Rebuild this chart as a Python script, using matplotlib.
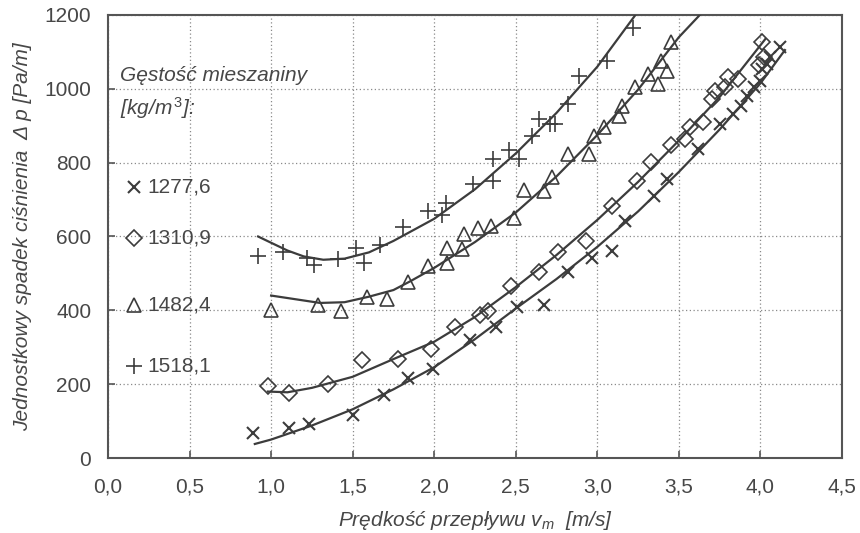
import numpy as np
import matplotlib
matplotlib.use("Agg")
import matplotlib.pyplot as plt
from matplotlib.patches import Rectangle

plt.rcParams["font.family"] = ["Liberation Sans", "DejaVu Sans"]
plt.rcParams["mathtext.fontset"] = "custom"
plt.rcParams["mathtext.rm"] = "Liberation Sans"
plt.rcParams["mathtext.it"] = "Liberation Sans:italic"

GRAY = "#3c3c3c"
TEXT = "#474747"
FS = 15

# measured points, density 1277,6 kg/m3 (x)
v_1277 = [0.89, 1.11, 1.23, 1.50, 1.69, 1.84, 1.99, 2.22, 2.38, 2.51, 2.67, 2.82, 2.97,
          3.09, 3.17, 3.35, 3.43, 3.62, 3.75, 3.83, 3.88, 3.92, 3.96, 4.00, 4.01, 4.04,
          4.06, 4.12]
dp_1277 = [68, 81, 92, 117, 171, 217, 242, 320, 356, 410, 415, 505, 543,
           560, 641, 709, 755, 836, 904, 931, 953, 980, 1004, 1021, 1054, 1067,
           1086, 1113]

# density 1310,9 (diamond)
v_1310 = [0.98, 1.11, 1.35, 1.56, 1.78, 1.98, 2.13, 2.28, 2.33, 2.47, 2.64, 2.76, 2.93,
          3.09, 3.24, 3.33, 3.45, 3.54, 3.57, 3.65, 3.70, 3.72, 3.78, 3.80, 3.86, 3.99,
          4.02, 4.01]
dp_1310 = [196, 176, 201, 266, 269, 296, 356, 388, 397, 467, 505, 557, 587,
           682, 750, 802, 849, 863, 896, 909, 972, 994, 1004, 1032, 1027, 1065,
           1085, 1127]

# density 1482,4 (triangle)
v_1482 = [1.00, 1.29, 1.43, 1.59, 1.71, 1.84, 1.96, 2.08, 2.08, 2.17, 2.18, 2.27, 2.35,
          2.49, 2.55, 2.67, 2.72, 2.82, 2.95, 2.98, 3.04, 3.13, 3.15, 3.23, 3.31, 3.37,
          3.39, 3.43, 3.45]
dp_1482 = [402, 415, 397, 437, 432, 478, 519, 529, 570, 565, 606, 622, 628,
           651, 725, 723, 760, 823, 823, 872, 896, 926, 953, 1004, 1040, 1013,
           1076, 1049, 1127]

# density 1518,1 (plus)
v_1518 = [0.92, 1.07, 1.22, 1.26, 1.41, 1.52, 1.57, 1.67, 1.81, 1.96, 2.05, 2.07, 2.24,
          2.36, 2.36, 2.46, 2.52, 2.60, 2.64, 2.71, 2.74, 2.82, 2.89, 3.06, 3.22]
dp_1518 = [546, 559, 543, 524, 540, 570, 529, 578, 625, 668, 657, 692, 741,
           750, 809, 834, 809, 872, 918, 904, 904, 958, 1035, 1076, 1165]

# trend curves
cv_1277 = [0.90, 1.00, 1.25, 1.50, 1.75, 2.00, 2.25, 2.50, 2.75, 3.00, 3.25, 3.50, 3.75, 4.00, 4.15]
cdp_1277 = [38, 50, 88, 132, 186, 246, 322, 405, 485, 572, 668, 775, 890, 1015, 1105]
cv_1310 = [0.98, 1.10, 1.25, 1.50, 1.75, 2.00, 2.25, 2.50, 2.75, 3.00, 3.25, 3.50, 3.75, 4.03]
cdp_1310 = [180, 178, 190, 220, 268, 315, 382, 463, 550, 645, 748, 860, 978, 1135]
cv_1482 = [1.00, 1.15, 1.30, 1.45, 1.60, 1.75, 1.85, 2.00, 2.25, 2.50, 2.75, 3.00, 3.25, 3.50, 3.66]
cdp_1482 = [440, 430, 420, 422, 437, 455, 478, 515, 585, 665, 763, 875, 998, 1140, 1215]
cv_1518 = [0.92, 1.00, 1.10, 1.20, 1.32, 1.45, 1.60, 1.75, 2.00, 2.25, 2.50, 2.75, 3.00, 3.25]
cdp_1518 = [600, 583, 562, 546, 537, 540, 557, 588, 648, 728, 825, 935, 1060, 1210]

labels = ["1277,6", "1310,9", "1482,4", "1518,1"]
x_ticks = np.arange(0, 4.51, 0.5)
y_ticks = np.arange(0, 1201, 200)


def main():
    fig = plt.figure(figsize=(8.6, 5.33), dpi=100)
    ax = fig.add_axes([0.1256, 0.1407, 0.8535, 0.8312])

    series = [
        (v_1277, dp_1277, cv_1277, cdp_1277, dict(marker="x", ms=9, mew=1.5)),
        (v_1310, dp_1310, cv_1310, cdp_1310, dict(marker="D", ms=7.8, mew=1.2, fillstyle="none")),
        (v_1482, dp_1482, cv_1482, cdp_1482, dict(marker="^", ms=9.5, mew=1.2, fillstyle="none")),
        (v_1518, dp_1518, cv_1518, cdp_1518, dict(marker="+", ms=11, mew=1.2)),
    ]
    for v, dp, cv, cdp, mk in series:
        ax.plot(cv, cdp, color=GRAY, lw=1.6, zorder=3)
        ax.plot(v, dp, ls="none", color=GRAY, mec=GRAY, zorder=4, **mk)

    ax.set_xlim(0, 4.5)
    ax.set_ylim(0, 1200)
    ax.set_xticks(x_ticks)
    ax.set_yticks(y_ticks)
    ax.set_xticklabels(["{:.1f}".format(t).replace(".", ",") for t in x_ticks])
    ax.grid(True, color="#8a8a8a", ls=(0, (1, 2)), lw=0.9, zorder=0)
    ax.tick_params(direction="in", length=5, width=1.2, colors="#555555",
                   labelcolor=TEXT, labelsize=FS)
    ax.tick_params(axis="y", pad=12)
    ax.tick_params(axis="x", pad=14)
    for s in ax.spines.values():
        s.set_color("#555555")
        s.set_linewidth(1.5)

    ax.set_xlabel(r"Prędkość przepływu $v_m$  [m/s]", fontsize=FS, style="italic",
                  color=TEXT, labelpad=9)
    ax.set_ylabel("Jednostkowy spadek ciśnienia  Δ p [Pa/m]", fontsize=FS, style="italic",
                  color=TEXT, labelpad=9)

    # white boxes behind the legend text (grid is hidden there)
    ax.add_patch(Rectangle((0.002, 0.752), 0.305, 0.158, transform=ax.transAxes,
                           facecolor="white", edgecolor="none", zorder=1))
    ax.add_patch(Rectangle((0.002, 0.142), 0.155, 0.549, transform=ax.transAxes,
                           facecolor="white", edgecolor="none", zorder=1))

    ax.text(0.017, 0.863, "Gęstość mieszaniny", transform=ax.transAxes, fontsize=FS,
            style="italic", color=TEXT, va="center", ha="left", zorder=5)
    ax.text(0.017, 0.790, r"[kg/m$^{\,3}$]:", transform=ax.transAxes, fontsize=FS,
            style="italic", color=TEXT, va="center", ha="left", zorder=5)

    entry_y = [0.612, 0.497, 0.345, 0.208]
    for (v, dp, cv, cdp, mk), lab, ey in zip(series, labels, entry_y):
        ax.plot([0.035], [ey], transform=ax.transAxes, ls="none", color=GRAY,
                mec=GRAY, clip_on=False, zorder=5, **mk)
        ax.text(0.054, ey, lab, transform=ax.transAxes, fontsize=FS, color=TEXT,
                va="center", ha="left", zorder=5)

    fig.savefig("out.png", dpi=100, facecolor="white")


if __name__ == "__main__":
    main()
